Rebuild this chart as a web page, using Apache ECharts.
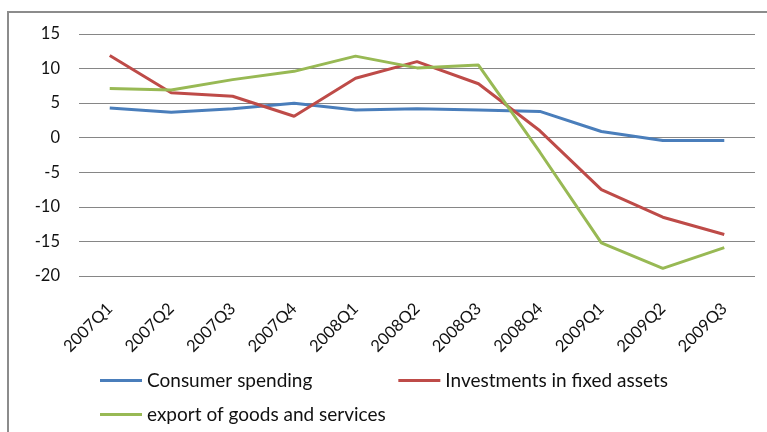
<!DOCTYPE html>
<html>
<head>
<meta charset="utf-8">
<script src="https://cdn.jsdelivr.net/npm/echarts@6/dist/echarts.min.js"></script>
<style>
  html, body { margin: 0; padding: 0; background: #fff; }
  #chart { width: 767px; height: 432px; }
</style>
</head>
<body>
<div id="chart"></div>
<script>
// Quarterly growth rates, 2007Q1 – 2009Q3
const quarters = ['2007Q1', '2007Q2', '2007Q3', '2007Q4', '2008Q1', '2008Q2',
                  '2008Q3', '2008Q4', '2009Q1', '2009Q2', '2009Q3'];
const consumerSpending = [4.3, 3.7, 4.2, 5.0, 4.0, 4.2, 4.0, 3.8, 0.9, -0.4, -0.4];
const fixedInvestment  = [11.9, 6.5, 6.0, 3.1, 8.6, 11.0, 7.8, 1.0, -7.5, -11.5, -14.0];
const exportsGS        = [7.1, 6.9, 8.4, 9.6, 11.8, 10.1, 10.5, -2.1, -15.2, -18.9, -15.9];
const yTicks = { min: -20, max: 15, step: 5 };

const FONT = 'Lato';
const AXIS_FONT_SIZE = 16.5;
const LEGEND_FONT_SIZE = 19;
const TEXT = '#111';

const chart = echarts.init(document.getElementById('chart'));

function lineSeries(name, data, color) {
  return {
    name, type: 'line', data,
    symbol: 'none',
    lineStyle: { color, width: 3 },
    itemStyle: { color },
    emphasis: { disabled: true }
  };
}

const legendCommon = {
  icon: 'rect',
  itemWidth: 42,
  itemHeight: 3,
  itemGap: 86,
  textStyle: { fontFamily: FONT, fontSize: LEGEND_FONT_SIZE, color: TEXT },
  selectedMode: false
};

chart.setOption({
  animation: false,
  backgroundColor: '#fff',
  graphic: [{
    type: 'rect',
    shape: { x: 8, y: 12, width: 800, height: 460 },
    style: { fill: 'none', stroke: '#8c8c8c', lineWidth: 2 },
    silent: true
  }],
  grid: { left: 79, right: 12, top: 34, bottom: 156 },
  legend: [
    Object.assign({}, legendCommon, {
      data: ['Consumer spending', 'Investments in fixed assets'],
      left: 95, top: 366
    }),
    Object.assign({}, legendCommon, {
      data: ['export of goods and services'],
      left: 95, top: 400
    })
  ],
  xAxis: {
    type: 'category',
    data: quarters,
    boundaryGap: true,
    axisLine: { show: false },
    axisTick: { show: false },
    axisLabel: {
      rotate: 45, margin: 30, interval: 0,
      fontFamily: FONT, fontSize: AXIS_FONT_SIZE, color: TEXT
    }
  },
  yAxis: {
    type: 'value',
    min: yTicks.min, max: yTicks.max, interval: yTicks.step,
    axisLine: { show: false },
    axisTick: { show: false },
    axisLabel: { margin: 19, fontFamily: FONT, fontSize: AXIS_FONT_SIZE, color: TEXT },
    splitLine: { lineStyle: { color: '#868686', width: 1 } }
  },
  series: [
    lineSeries('Consumer spending', consumerSpending, '#4A7EBB'),
    lineSeries('Investments in fixed assets', fixedInvestment, '#BE4B48'),
    lineSeries('export of goods and services', exportsGS, '#98B954')
  ]
});
</script>
</body>
</html>
